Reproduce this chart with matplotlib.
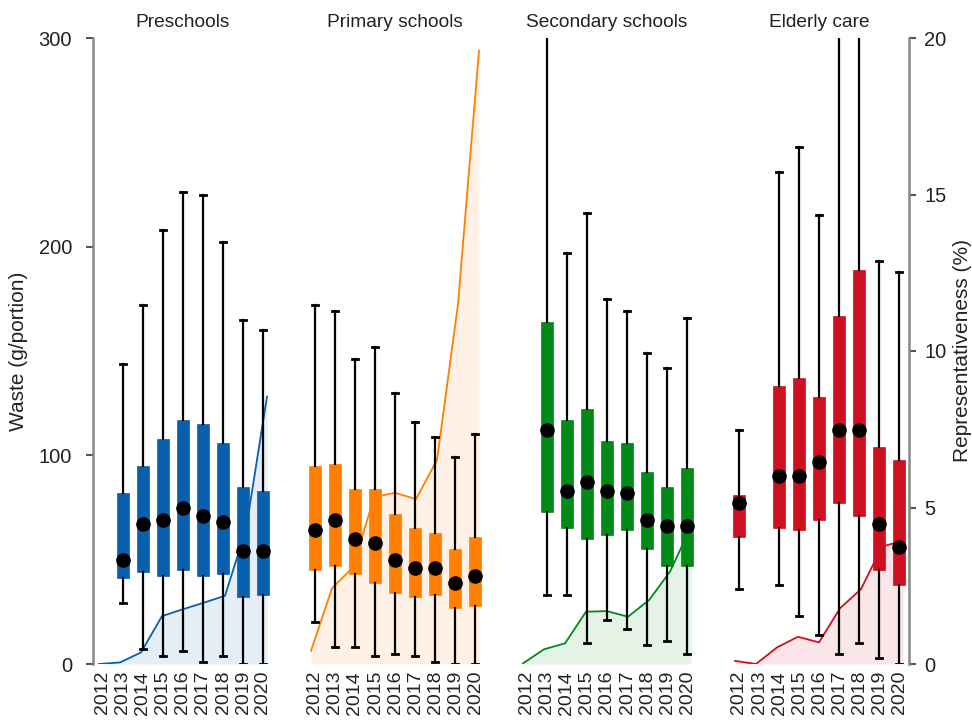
import numpy as np
import matplotlib
matplotlib.use("Agg")
import matplotlib.pyplot as plt
import matplotlib.transforms as mtransforms

plt.rcParams['font.family'] = ['Liberation Sans', 'DejaVu Sans']

years = ["2012", "2013", "2014", "2015", "2016", "2017", "2018", "2019", "2020"]
categories = ["Preschools", "Primary schools", "Secondary schools", "Elderly care"]
colors = ["#0860AE", "#FF7F00", "#008A18", "#CF1020"]

nan = np.nan

# Waste (g/portion): lower whisker, lower quartile, median, upper quartile, upper whisker
pre_lo = [nan, 29, 7, 4, 6, 1, 4, 0, 0]
pre_q1 = [nan, 41, 44, 42, 45, 42, 43, 32, 33]
pre_med = [nan, 50, 67, 69, 75, 71, 68, 54, 54]
pre_q3 = [nan, 82, 95, 108, 117, 115, 106, 85, 83]
pre_hi = [nan, 144, 172, 208, 226, 225, 202, 165, 160]

pri_lo = [20, 8, 8, 4, 5, 4, 1, 0, 0]
pri_q1 = [45, 47, 43, 39, 34, 32, 33, 27, 28]
pri_med = [64, 69, 60, 58, 50, 46, 46, 39, 42]
pri_q3 = [95, 96, 84, 84, 72, 65, 63, 55, 61]
pri_hi = [172, 169, 146, 152, 130, 116, 109, 99, 110]

sec_lo = [nan, 33, 33, 10, 21, 17, 9, 11, 5]
sec_q1 = [nan, 73, 65, 60, 62, 64, 55, 47, 47]
sec_med = [nan, 112, 83, 87, 83, 82, 69, 66, 66]
sec_q3 = [nan, 164, 117, 122, 107, 106, 92, 85, 94]
sec_hi = [nan, 320, 197, 216, 175, 169, 149, 142, 166]

eld_lo = [36, nan, 38, 23, 14, 5, 10, 3, 0]
eld_q1 = [61, nan, 65, 64, 69, 77, 71, 45, 38]
eld_med = [77, nan, 90, 90, 97, 112, 112, 67, 56]
eld_q3 = [81, nan, 133, 137, 128, 167, 189, 104, 98]
eld_hi = [112, nan, 236, 248, 215, 330, 330, 193, 188]

# Representativeness (%)
pre_rep = [0.0, 0.05, 0.37, 1.53, 1.75, 1.96, 2.18, 4.3, 8.54]
pri_rep = [0.42, 2.42, 3.09, 5.33, 5.47, 5.27, 6.52, 11.5, 19.6]
sec_rep = [0.02, 0.47, 0.66, 1.67, 1.69, 1.51, 2.04, 2.95, 4.39]
eld_rep = [0.10, 0.0, 0.53, 0.87, 0.69, 1.78, 2.39, 3.75, 3.94]

groups = [
    (pre_lo, pre_q1, pre_med, pre_q3, pre_hi, pre_rep),
    (pri_lo, pri_q1, pri_med, pri_q3, pri_hi, pri_rep),
    (sec_lo, sec_q1, sec_med, sec_q3, sec_hi, sec_rep),
    (eld_lo, eld_q1, eld_med, eld_q3, eld_hi, eld_rep),
]

group_step = 10.6
fig = plt.figure(figsize=(9.72, 7.21), dpi=100)
ax = fig.add_axes([93 / 972, 1 - 664 / 721, 816 / 972, 626 / 721])
ax2 = ax.twinx()

tick_pos = []
tick_lab = []
for gi, (lo, q1, med, q3, hi, rep) in enumerate(groups):
    off = gi * group_step
    col = colors[gi]
    idx = np.arange(len(years))
    # representativeness trace with shaded area
    xl = off + np.linspace(-0.2, 8.2, len(years))
    ax2.fill_between(xl, 0, rep, color=col, alpha=0.1, lw=0)
    ax2.plot(xl, rep, color=col, lw=1.3)

    stats = []
    pos = []
    for i in idx:
        if np.isnan(med[i]):
            continue
        stats.append(dict(whislo=lo[i], q1=q1[i], med=med[i], q3=q3[i],
                          whishi=hi[i], mean=med[i], fliers=[]))
        pos.append(off + i)
    ax.bxp(stats, positions=pos, widths=0.62, patch_artist=True,
           showmeans=True, showfliers=False, capwidths=0.3,
           boxprops=dict(facecolor=col, edgecolor=col, linewidth=0.5),
           whiskerprops=dict(color="black", linewidth=1.6),
           capprops=dict(color="black", linewidth=2.0),
           medianprops=dict(linestyle="none"),
           meanprops=dict(marker="o", markerfacecolor="black",
                          markeredgecolor="black", markersize=9.5))
    tick_pos.extend(off + idx)
    tick_lab.extend(years)
    trans = mtransforms.blended_transform_factory(ax.transData, ax.transAxes)
    ax.text(off + 4, 1.0 + 16 / 626, categories[gi], transform=trans,
            ha="center", va="center", fontsize=13.8, color="#222222")

ax.set_zorder(ax2.get_zorder() + 1)
ax.patch.set_visible(False)

ax.set_xlim(-0.5, 3 * group_step + 8.5)
ax.set_ylim(0, 300)
ax2.set_ylim(0, 20)
ax.set_yticks([0, 100, 200, 300])
ax2.set_yticks([0, 5, 10, 15, 20])
ax.set_xticks(tick_pos)
ax.set_xticklabels(tick_lab, rotation=90, fontsize=14, color="#222222")
ax.tick_params(axis="x", length=0, pad=5)

for a in (ax, ax2):
    for s in a.spines.values():
        s.set_visible(False)
ax.spines["left"].set_visible(True)
ax.spines["left"].set_color("#888888")
ax.spines["left"].set_linewidth(1.8)
ax2.spines["right"].set_visible(True)
ax2.spines["right"].set_color("#888888")
ax2.spines["right"].set_linewidth(1.8)

ax.tick_params(axis="y", direction="out", length=5, width=1.5, color="#555555",
               labelsize=14.5, labelcolor="#222222", pad=10)
ax2.tick_params(axis="y", direction="out", length=5, width=1.5, color="#555555",
                labelsize=14.5, labelcolor="#222222", pad=6)

fig.text(19 / 972, 1 - 351 / 721, "Waste (g/portion)", rotation=90,
         ha="center", va="center", fontsize=15, color="#222222")
fig.text(962 / 972, 1 - 351 / 721, "Representativeness (%)", rotation=90,
         ha="center", va="center", fontsize=15, color="#222222")

fig.savefig("out.png", dpi=100)
